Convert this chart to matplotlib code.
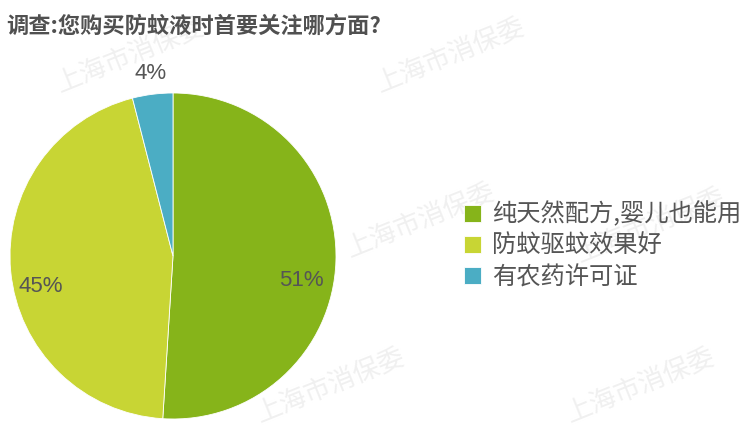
import matplotlib
matplotlib.use("Agg")
import matplotlib.pyplot as plt

plt.rcParams['font.family'] = ['Noto Sans CJK SC', 'DejaVu Sans']

title = "调查:您购买防蚊液时首要关注哪方面?"
categories = ["纯天然配方,婴儿也能用", "防蚊驱蚊效果好", "有农药许可证"]
values = [51, 45, 4]
colors = ["#86B41A", "#C8D534", "#4BADC4"]
watermark = "上海市消保委"

W, H = 750, 441
fig = plt.figure(figsize=(W / 100, H / 100), dpi=100)

# background layer for faint watermarks (behind the pie)
bg = fig.add_axes([0, 0, 1, 1], zorder=-1)
bg.set_xlim(0, W)
bg.set_ylim(H, 0)
bg.axis("off")
wm_pos = [(130, 55), (450, 55), (420, 220), (650, 225), (330, 385), (640, 385)]
for (x, y) in wm_pos:
    bg.text(x, y, watermark, fontsize=19, color="#f0f0f0",
            rotation=22, ha="center", va="center")

cx, cy, r = 173, 256, 163
ax = fig.add_axes([(cx - r) / W, (H - cy - r) / H, 2 * r / W, 2 * r / H])
wedges, texts = ax.pie(values, colors=colors, startangle=90, counterclock=False,
                       wedgeprops=dict(edgecolor="white", linewidth=0.6))
ax.set_xlim(-1, 1)
ax.set_ylim(-1, 1)
ax.set_aspect("equal")
ax.axis("off")

# percentage labels
label_pos = [(0.79, -0.15), (-0.81, -0.19), (-0.14, 1.12)]
for v, (lx, ly) in zip(values, label_pos):
    ax.text(lx, ly, f"{v}%", fontsize=16, color="#555555", ha="center", va="center",
            family="Liberation Sans", clip_on=False)

fig.text(6 / W, 1 - 26 / H, title, fontsize=16, fontweight="bold", color="#505050",
         ha="left", va="center")

# legend
leg = fig.legend(wedges, categories, loc="upper left",
                 bbox_to_anchor=(454 / W, 1 - 192 / H), frameon=False,
                 fontsize=17.5, labelcolor="#555555", handlelength=0.7, handleheight=0.7,
                 handletextpad=0.45, labelspacing=0.22, borderaxespad=0)

fig.savefig("out.png", dpi=100)
